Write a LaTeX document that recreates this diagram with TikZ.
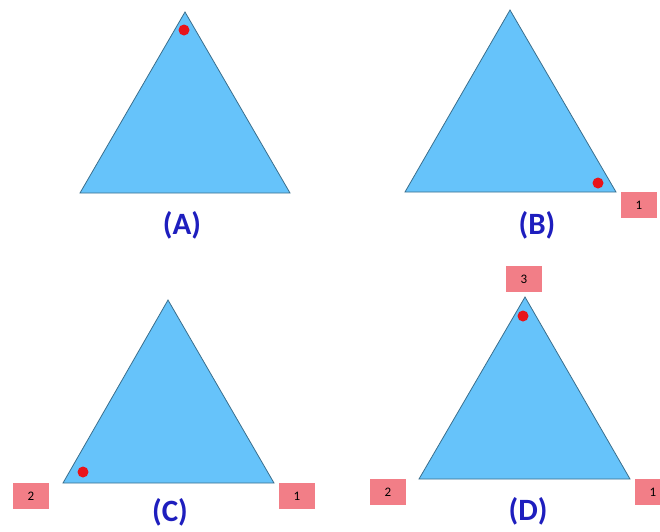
\documentclass[tikz,border=0pt]{standalone}
\usepackage{fontspec}
\setmainfont{Carlito}
\definecolor{triblue}{HTML}{66C3FA}
\definecolor{triedge}{HTML}{3A6E8C}
\definecolor{tagpink}{HTML}{F27E87}
\definecolor{dotred}{HTML}{E8141B}
\definecolor{capblue}{HTML}{1E1EBE}
\begin{document}
\begin{tikzpicture}[x=1pt, y=-1pt,
    tri/.style={fill=triblue, draw=triedge, line width=0.8pt},
    dot/.style={circle, fill=dotred, inner sep=0pt, minimum size=11pt},
    tag/.style={fill=tagpink, inner sep=0pt, minimum width=36pt, minimum height=26pt, font=\fontsize{13}{13}\selectfont},
    caption/.style={text=capblue, font=\fontsize{31}{31}\selectfont\bfseries}]
        \useasboundingbox (0,0) rectangle (660,531);
        % (A)
        \coordinate (aL) at (80,193);
        \coordinate (aR) at (290,193);
        \coordinate (aT) at (185,12);
        \draw[tri] (aL)--(aR)--(aT)--cycle;
        \node[dot] (aDot) at (184,30) {};
        \node[caption] (aCap) at (182,225) {(A)};
        % (B)
        \coordinate (bL) at (405,192);
        \coordinate (bR) at (616,192);
        \coordinate (bT) at (510,10);
        \draw[tri] (bL)--(bR)--(bT)--cycle;
        \node[dot] (bDot) at (598,183) {};
        \node[tag] (bOne) at (639,205) {1};
        \node[caption] (bCap) at (537,225) {(B)};
        % (C)
        \coordinate (cL) at (63,483);
        \coordinate (cR) at (274,483);
        \coordinate (cT) at (168,300);
        \draw[tri] (cL)--(cR)--(cT)--cycle;
        \node[dot] (cDot) at (83,472) {};
        \node[tag] (cTwo) at (31,496) {2};
        \node[tag] (cOne) at (297,496) {1};
        \node[caption] (cCap) at (170,512) {(C)};
        % (D)
        \coordinate (dL) at (419,479);
        \coordinate (dR) at (630,479);
        \coordinate (dT) at (525,297);
        \draw[tri] (dL)--(dR)--(dT)--cycle;
        \node[dot] (dDot) at (523,316) {};
        \node[tag] (dThree) at (524,279) {3};
        \node[tag] (dTwo) at (388,492) {2};
        \node[tag] (dOne) at (653,492) {1};
        \node[caption] (dCap) at (528,511) {(D)};
    \end{tikzpicture}
\end{document}
